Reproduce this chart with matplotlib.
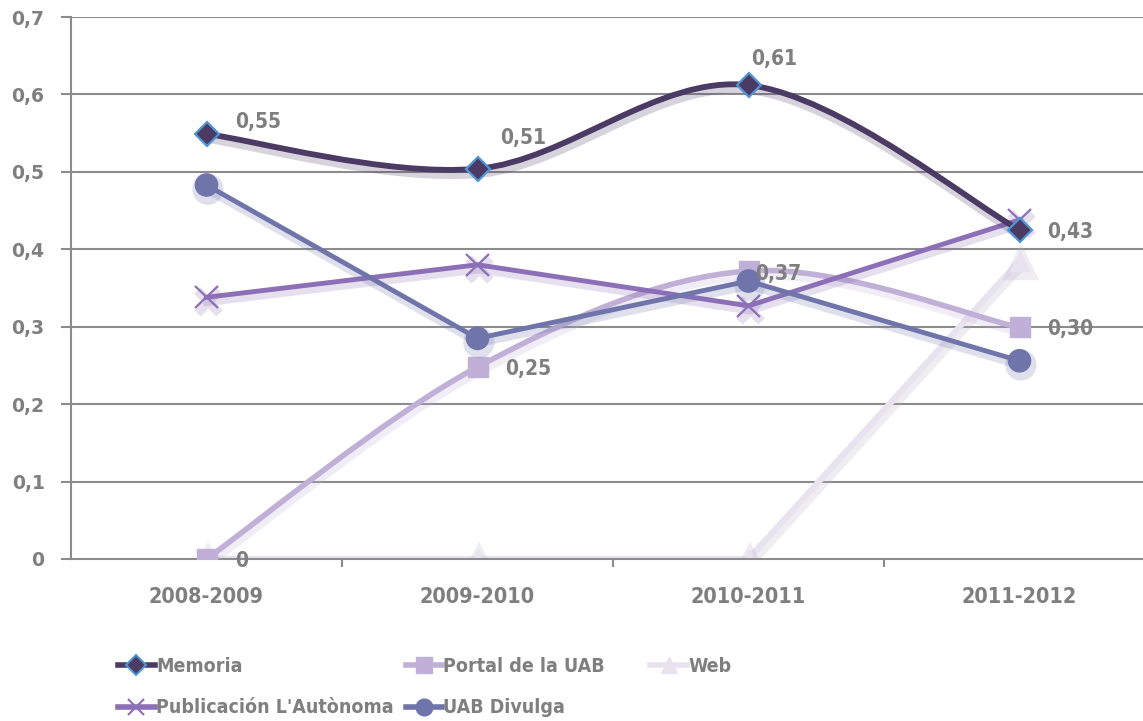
import numpy as np
import matplotlib
matplotlib.use("Agg")
import matplotlib.pyplot as plt
from matplotlib.path import Path
from matplotlib.patches import PathPatch
from matplotlib.lines import Line2D
import matplotlib.patheffects as pe

# data
periods = ["2008-2009", "2009-2010", "2010-2011", "2011-2012"]
memoria = [0.549, 0.504, 0.612, 0.425]
portal = [0.0, 0.248, 0.372, 0.299]
web = [0.0, 0.0, 0.0, 0.385]
publicacion = [0.338, 0.380, 0.327, 0.438]
divulga = [0.483, 0.285, 0.359, 0.256]

memoria_labels = ["0,55", "0,51", "0,61", "0,43"]
portal_labels = ["0", "0,25", "0,37", "0,30"]
yticks = [0, 0.1, 0.2, 0.3, 0.4, 0.5, 0.6, 0.7]
ytick_labels = ["0", "0,1", "0,2", "0,3", "0,4", "0,5", "0,6", "0,7"]

# label offsets in pixels (dx, dy)
memoria_off = [(52, 12), (46, 31), (26, 26), (51, -2)]
portal_off = [(35, -2), (51, -2), (30, -3), (51, -2)]

GRAY = "#7f7f7f"
COND = dict(family="DejaVu Sans", weight="bold", stretch="condensed")

c_mem = "#4b3a63"
c_portal = "#c0afd6"
c_web = "#e9e3f0"
c_pub = "#8c6fb6"
c_div = "#6f75ab"


def smooth_path(xs, ys):
    # excel style smoothed line as cubic bezier segments
    pts = np.column_stack([xs, ys]).astype(float)
    ext = np.vstack([pts[0], pts, pts[-1]])
    verts = [pts[0]]
    codes = [Path.MOVETO]
    for i in range(len(pts) - 1):
        p0, p1, p2, p3 = ext[i], ext[i + 1], ext[i + 2], ext[i + 3]
        verts += [p1 + (p2 - p0) / 6, p2 - (p3 - p1) / 6, p2]
        codes += [Path.CURVE4] * 3
    return Path(verts, codes)


def shadow(color, lw):
    return [pe.SimpleLineShadow(offset=(1, -3), shadow_color=color, alpha=0.22,
                                linewidth=lw + 3),
            pe.Normal()]


fig = plt.figure(figsize=(11.43, 7.21), dpi=100)
ax = fig.add_axes([71 / 1143, 162 / 721, 1084 / 1143, 542 / 721])
x = np.arange(len(periods))

ax.set_xlim(-0.5, 3.5)
ax.set_ylim(0, 0.7)

# grid
for yv in yticks[1:]:
    ax.axhline(yv, color="#8c8c8c", lw=1.5, zorder=1)

# web (lowest)
ax.plot(x, web, color=c_web, lw=4.5, marker="^", ms=14, zorder=2,
        path_effects=shadow("#b8acc8", 4.5))

# portal smoothed
ax.add_patch(PathPatch(smooth_path(x, portal), fill=False, ec=c_portal, lw=4,
                       zorder=3, capstyle="round", path_effects=shadow(c_portal, 4)))
ax.plot(x, portal, ls="none", marker="s", ms=14, color=c_portal, zorder=3)

ax.plot(x, publicacion, color=c_pub, lw=3.5, marker="x", ms=16, mew=1.6,
        zorder=4, path_effects=shadow(c_pub, 3.5))

ax.plot(x, divulga, color=c_div, lw=3.5, marker="o", ms=16, zorder=5,
        path_effects=shadow(c_div, 3.5))

ax.add_patch(PathPatch(smooth_path(x, memoria), fill=False, ec=c_mem, lw=4.2,
                       zorder=6, capstyle="round", path_effects=shadow(c_mem, 4.2)))
ax.plot(x, memoria, ls="none", marker="D", ms=12, mfc=c_mem, mec="#4f96d4",
        mew=1.6, zorder=6)

# data labels
for xi, yi, lab, (dx, dy) in zip(x, memoria, memoria_labels, memoria_off):
    ax.annotate(lab, (xi, yi), xytext=(dx * 0.72, dy * 0.72), textcoords="offset points",
                ha="center", va="center", fontsize=15, color=GRAY, zorder=8, **COND)
for xi, yi, lab, (dx, dy) in zip(x, portal, portal_labels, portal_off):
    ax.annotate(lab, (xi, yi), xytext=(dx * 0.72, dy * 0.72), textcoords="offset points",
                ha="center", va="center", fontsize=15, color=GRAY, zorder=8, **COND)

# axes styling
for s in ["top", "right"]:
    ax.spines[s].set_visible(False)
ax.spines["left"].set_color("#8c8c8c")
ax.spines["left"].set_linewidth(1.5)
ax.spines["bottom"].set_color("#8c8c8c")
ax.spines["bottom"].set_linewidth(1.5)

ax.set_yticks(yticks)
ax.set_yticklabels(ytick_labels)
ax.tick_params(axis="y", length=7, width=1.5, color="#8c8c8c", pad=12,
               labelsize=13.5, labelcolor=GRAY)
for t in ax.get_yticklabels():
    t.set_fontweight("bold")

ax.set_xticks(x)
ax.set_xticklabels(periods)
ax.set_xticks([0.5, 1.5, 2.5], minor=True)
ax.tick_params(axis="x", which="major", length=0, pad=20, labelsize=15.5,
               labelcolor=GRAY)
ax.tick_params(axis="x", which="minor", length=6, width=1.5, color="#8c8c8c")
for t in ax.get_xticklabels():
    t.set_fontproperties(dict(COND, size=15.5))

# legend, one column at a time (fixed column positions like the original)
h_mem = Line2D([], [], color=c_mem, lw=4, marker="D", ms=10, mfc=c_mem, mec="#4f96d4", mew=1.5)
h_pub = Line2D([], [], color=c_pub, lw=4, marker="x", ms=11, mew=1.5)
h_portal = Line2D([], [], color=c_portal, lw=4, marker="s", ms=12)
h_div = Line2D([], [], color=c_div, lw=4, marker="o", ms=12)
h_web = Line2D([], [], color=c_web, lw=4, marker="^", ms=12)

columns = [
    (118, 0, [h_mem, h_pub], ["Memoria", "Publicación L'Autònoma"]),
    (330, 12, [h_portal, h_div], ["Portal de la UAB", "UAB Divulga"]),
    (542, 45, [h_web], ["Web"]),
]
fig.canvas.draw()
renderer = fig.canvas.get_renderer()
prev_end = 0
for xpos, gap, hs, names in columns:
    xpos = max(xpos, prev_end + gap)
    leg = fig.legend(hs, names, loc="upper left",
                     bbox_to_anchor=(xpos / 1143, 1 - 657 / 721), frameon=False,
                     handlelength=1.9, handletextpad=0.05, labelspacing=1.15,
                     borderpad=0, borderaxespad=0,
                     prop=dict(COND, size=14))
    for t in leg.get_texts():
        t.set_color(GRAY)
    prev_end = leg.get_window_extent(renderer).x1

fig.savefig("out.png", dpi=100)
